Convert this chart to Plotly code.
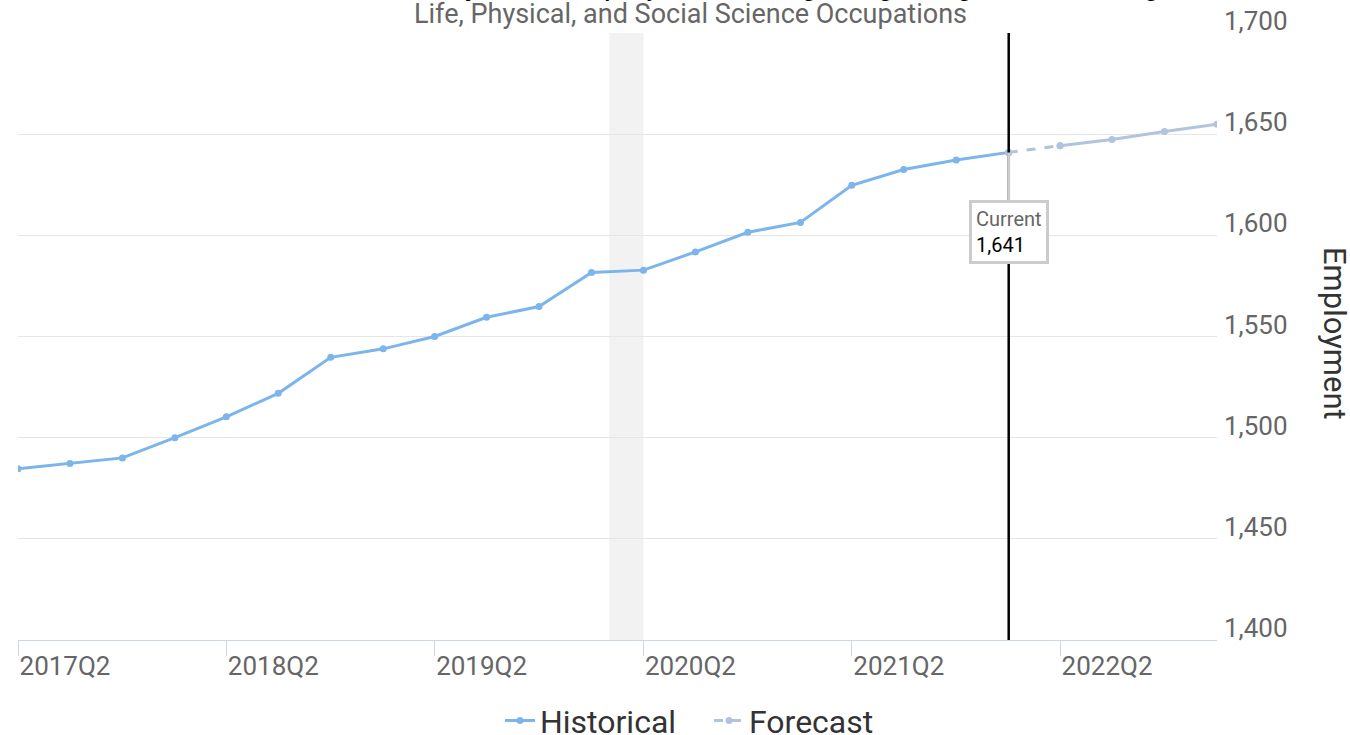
import pandas as pd
import plotly.graph_objects as go

FONT = "Roboto"
HIST_COLOR = "#7cb5ec"
FCST_COLOR = "#b0c4de"
GRID = "#e6e6e6"
AXIS_LINE = "#ccd6eb"

hist_quarters = [
    "2017Q2", "2017Q3", "2017Q4", "2018Q1", "2018Q2", "2018Q3", "2018Q4",
    "2019Q1", "2019Q2", "2019Q3", "2019Q4", "2020Q1", "2020Q2", "2020Q3",
    "2020Q4", "2021Q1", "2021Q2", "2021Q3", "2021Q4", "2022Q1",
]
hist_values = [
    1484.6, 1487.2, 1490.0, 1500.0, 1510.3, 1521.9, 1539.7,
    1543.9, 1550.0, 1559.5, 1564.8, 1581.6, 1582.8, 1591.8,
    1601.5, 1606.4, 1624.7, 1632.5, 1637.2, 1641.0,
]
fcst_quarters = ["2022Q1", "2022Q2", "2022Q3", "2022Q4", "2023Q1"]
fcst_values = [1641.0, 1644.3, 1647.4, 1651.3, 1654.9]

tick_quarters = ["2017Q2", "2018Q2", "2019Q2", "2020Q2", "2021Q2", "2022Q2"]
recession = ["2020-02-01", "2020-04-01"]
current_quarter = "2022Q1"
current_value = 1641
x_range = ["2017Q2", "2023Q1"]


def q2date(q):
    return pd.Period(q, freq="Q").to_timestamp()


hist_x = [q2date(q) for q in hist_quarters]
fcst_x = [q2date(q) for q in fcst_quarters]
cur_x = q2date(current_quarter)

fig = go.Figure()

# recession band + current marker line
fig.add_vrect(x0=recession[0], x1=recession[1], fillcolor="#f2f2f2",
              line_width=0, layer="below")
fig.add_shape(type="line", x0=cur_x, x1=cur_x, y0=0, y1=1, yref="paper",
              line={"color": "#000000", "width": 2.5})

fig.add_trace(go.Scatter(
    x=hist_x, y=hist_values, mode="lines+markers", name="Historical",
    line={"color": HIST_COLOR, "width": 3},
    marker={"color": HIST_COLOR, "size": 7},
))
# forecast: first step dashed, the rest solid
fig.add_trace(go.Scatter(
    x=fcst_x[:2], y=fcst_values[:2], mode="lines+markers", name="Forecast",
    line={"color": FCST_COLOR, "width": 3, "dash": "dash"},
    marker={"color": FCST_COLOR, "size": 7},
))
fig.add_trace(go.Scatter(
    x=fcst_x[1:], y=fcst_values[1:], mode="lines+markers", name="Forecast",
    line={"color": FCST_COLOR, "width": 3},
    marker={"color": FCST_COLOR, "size": 7}, showlegend=False,
))

fig.add_annotation(
    x=cur_x, y=current_value, ax=0, ay=80,
    text=f"<span style='color:#666666'>Current</span><br>{current_value:,}",
    align="left", showarrow=True, arrowhead=0, arrowwidth=3, arrowcolor="#cccccc",
    bgcolor="#ffffff", bordercolor="#cccccc", borderwidth=3, borderpad=4,
    font={"family": FONT, "size": 20, "color": "#000000"},
)

# title sits above the visible area, only its descenders peek in
fig.add_annotation(
    text="Historical and Projected Employment Using Long-Range Forecasting",
    xref="paper", yref="paper", x=0.5605, y=1.0465, yanchor="bottom",
    showarrow=False, font={"family": FONT, "size": 31, "color": "#000000"},
)
fig.add_annotation(
    text="Life, Physical, and Social Science Occupations",
    xref="paper", yref="paper", x=0.5605, y=1.002, yanchor="bottom",
    showarrow=False, font={"family": FONT, "size": 27, "color": "#666666"},
)
fig.add_annotation(
    text="Employment", textangle=90,
    xref="paper", yref="paper", x=1.098, y=0.505, xanchor="center",
    showarrow=False, font={"family": FONT, "size": 31, "color": "#333333"},
)

fig.update_layout(
    width=1350, height=735,
    margin={"l": 18, "r": 133, "t": 33, "b": 95, "autoexpand": False},
    paper_bgcolor="#ffffff", plot_bgcolor="#ffffff",
    font={"family": FONT, "color": "#666666"},
    showlegend=True,
    legend={"orientation": "h", "x": 0.402, "xanchor": "left", "y": -0.133,
            "yanchor": "middle", "entrywidth": 164, "entrywidthmode": "pixels",
            "font": {"size": 32, "color": "#333333"}},
)
fig.update_xaxes(
    type="date", range=[q2date(x_range[0]), q2date(x_range[1])],
    tickvals=[q2date(q) for q in tick_quarters], ticktext=tick_quarters,
    showgrid=False, showline=True, linecolor=AXIS_LINE, linewidth=1,
    ticks="outside", ticklen=15, tickcolor=AXIS_LINE, automargin=False,
    tickfont={"size": 26, "color": "#666666"}, ticklabelshift=47,
    ticklabelstandoff=-12,
)
fig.update_yaxes(
    side="right", range=[1400, 1700], dtick=50, tickformat=",",
    showgrid=True, gridcolor=GRID, zeroline=False, showline=False,
    tickfont={"size": 26, "color": "#666666"}, ticklabelstandoff=6,
    ticklabelshift=-12, automargin=False,
)

fig.write_html(
    "out.html",
    config={"displayModeBar": False},
    post_script="document.body.style.margin='0';document.body.style.overflow='hidden';",
)
